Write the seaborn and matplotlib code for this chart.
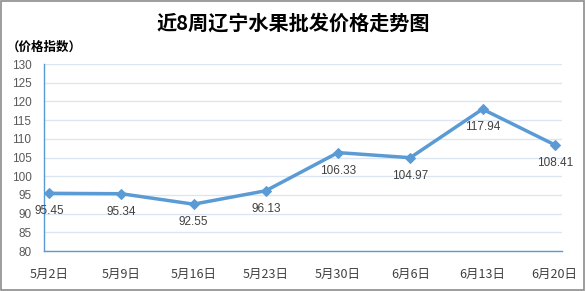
import matplotlib
matplotlib.use("Agg")
import matplotlib.pyplot as plt
import seaborn as sns
import pandas as pd
from matplotlib.patches import Rectangle

categories = ["5月2日", "5月9日", "5月16日", "5月23日", "5月30日", "6月6日", "6月13日", "6月20日"]
values = [95.45, 95.34, 92.55, 96.13, 106.33, 104.97, 117.94, 108.41]
yticks = list(range(80, 131, 5))

sns.set_theme(style="white")
plt.rcParams['font.family'] = ['Noto Sans CJK SC', 'DejaVu Sans']

df = pd.DataFrame({"x": range(len(categories)), "v": values})

fig = plt.figure(figsize=(5.86, 2.91), dpi=100)
ax = fig.add_axes([0.075, 0.137, 0.884, 0.643])

ax.grid(axis="y", color="#DCE6F2", linewidth=1)
ax.set_axisbelow(True)
sns.lineplot(data=df, x="x", y="v", ax=ax, color="#5B9BD5", linewidth=2.5,
             marker="D", markersize=5, markeredgecolor="#5B9BD5")

for i, v in enumerate(values):
    ax.annotate(f"{v:.2f}", (i, v), xytext=(0, -13), textcoords="offset points",
                ha="center", va="center", fontsize=8.5, color="#404040",
                family=['Liberation Sans'])

ax.set_xlim(-0.07, 7.1)
ax.set_ylim(80, 130)
ax.set_yticks(yticks)
ax.set_yticklabels([str(t) for t in yticks], fontsize=8.5, color="#595959", family=['Liberation Sans'])
ax.set_xticks(range(len(categories)))
ax.set_xticklabels(categories, fontsize=9, color="#404040")
ax.tick_params(axis="y", length=0, pad=9)
ax.tick_params(axis="x", length=0, pad=12)
ax.set_xlabel("")
ax.set_ylabel("")
for s in ["top", "right"]:
    ax.spines[s].set_visible(False)
for s in ["left", "bottom"]:
    ax.spines[s].set_color("#5B9BD5")
    ax.spines[s].set_linewidth(1)

fig.text(0.5, 0.92, "近8周辽宁水果批发价格走势图", ha="center", va="center",
         fontsize=14.5, fontweight="bold", color="black")
fig.text(0.012, 0.838, "（价格指数）", ha="left", va="center",
         fontsize=9, fontweight="bold", color="black")

fig.patches.append(Rectangle((0.002, 0.003), 0.995, 0.993, transform=fig.transFigure,
                             fill=False, edgecolor="#8C8C8C", linewidth=1.2))

fig.savefig("out.png", dpi=100, facecolor="white")
